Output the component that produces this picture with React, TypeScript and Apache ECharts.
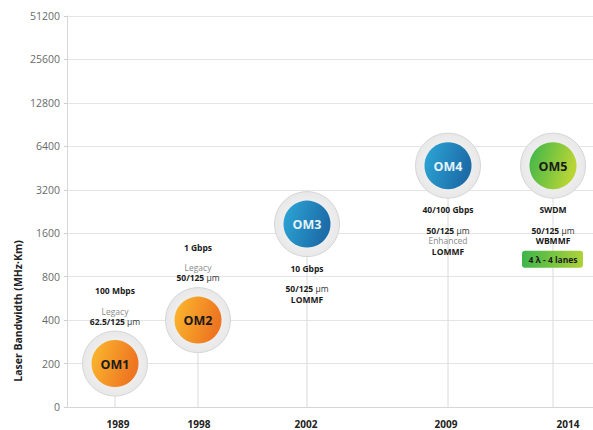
import React, { useEffect, useRef } from "react";
import * as echarts from "echarts";

// ---- data ----
const names = ["OM1", "OM2", "OM3", "OM4", "OM5"];
const years = ["1989", "1998", "2002", "2009", "2014"];
const bandwidth = [200, 400, 1850, 4700, 4700]; // MHz·km (as drawn)
const speeds = ["100 Mbps", "1 Gbps", "10 Gbps", "40/100 Gbps", "SWDM"];
const fiberTypes = ["Legacy", "Legacy", "", "Enhanced", ""];
const cores = ["62.5/125", "50/125", "50/125", "50/125", "50/125"];
const fiberClasses = ["", "", "LOMMF", "LOMMF", "WBMMF"];
const extras = ["", "", "", "", "4 λ - 4 lanes"];
const yLabels = ["0", "200", "400", "800", "1600", "3200", "6400", "12800", "25600", "51200"];

// ---- layout ----
const xPos = [48, 131, 240, 381, 486];
const yearLabelPos = [51, 132, 239, 379, 501];
const labelAbove = [true, true, false, false, false];
const palettes: Record<string, [string, string, string]> = {
  OM1: ["#FBBB2E", "#EE7521", "#1a1a1a"],
  OM2: ["#FBBB2E", "#EE7521", "#1a1a1a"],
  OM3: ["#2DA8D8", "#1C6CA8", "#E6F3FA"],
  OM4: ["#2DA8D8", "#1C6CA8", "#E6F3FA"],
  OM5: ["#3AB54A", "#B8D535", "#1a1a1a"],
};
const FONT = "'Open Sans', 'Noto Sans', sans-serif";

const toIdx = (v: number) => (v <= 0 ? 0 : 1 + Math.log2(v / 200));

const rich = {
  b: { fontFamily: FONT, fontSize: 8.5, fontWeight: "bold", fill: "#1a1a1a", color: "#1a1a1a" },
  n: { fontFamily: FONT, fontSize: 8.5, fontWeight: "normal", fill: "#333", color: "#333" },
  g: { fontFamily: FONT, fontSize: 8.5, fontWeight: "normal", fill: "#8a8a8a", color: "#8a8a8a" },
};

function textEl(x: number, y: number, text: string) {
  return {
    type: "text",
    z2: 20,
    style: {
      x,
      y,
      text,
      rich,
      align: "center",
      verticalAlign: "middle",
      fontFamily: FONT,
      fontSize: 8.5,
    },
  };
}

export default function App() {
  const ref = useRef<HTMLDivElement>(null);

  useEffect(() => {
    if (!ref.current) return;
    const chart = echarts.init(ref.current, null, { renderer: "svg" });

    const data = names.map((n, i) => [xPos[i], toIdx(bandwidth[i]), i]);

    const option = {
      animation: false,
      backgroundColor: "#ffffff",
      grid: { left: 67, right: 0, top: 16, bottom: 23 },
      xAxis: {
        type: "value",
        min: 0,
        max: 526,
        splitLine: { show: false },
        axisLine: { show: true, lineStyle: { color: "#D6D6D6", width: 1 } },
        axisTick: { show: false },
        axisLabel: {
          customValues: yearLabelPos,
          formatter: (v: number) => {
            const k = yearLabelPos.indexOf(v);
            return k >= 0 ? years[k] : "";
          },
          fontFamily: FONT,
          fontSize: 10,
          fontWeight: "bold",
          color: "#222",
          margin: 12,
        },
      },
      yAxis: {
        type: "value",
        min: 0,
        max: 9,
        interval: 1,
        axisLine: { show: true, lineStyle: { color: "#D6D6D6", width: 1 } },
        axisTick: { show: true, length: 3, lineStyle: { color: "#CFCFCF" } },
        splitLine: { show: true, lineStyle: { color: "#E4E4E4", width: 1 } },
        axisLabel: {
          formatter: (v: number) => yLabels[Math.round(v)] ?? "",
          fontFamily: FONT,
          fontSize: 10.5,
          color: "#6a6a6a",
          margin: 7,
        },
      },
      graphic: [
        {
          type: "text",
          x: 18,
          y: 311,
          rotation: Math.PI / 2,
          style: {
            text: "Laser Bandwidth (MHz·Km)",
            fontFamily: FONT,
            fontSize: 10.5,
            fontWeight: "bold",
            fill: "#222",
            align: "center",
            verticalAlign: "middle",
          },
        },
      ],
      series: [
        {
          type: "custom",
          data,
          clip: false,
          renderItem: (params: any, api: any) => {
            const i = api.value(2);
            const p = api.coord([api.value(0), api.value(1)]);
            const base = api.coord([api.value(0), 0]);
            const name = names[i];
            const [c1, c2, tc] = palettes[name];
            const cx = p[0];
            const cy = p[1];
            const children: any[] = [
              {
                type: "line",
                z2: 1,
                shape: { x1: cx, y1: cy, x2: base[0], y2: base[1] },
                style: { stroke: "#DADADA", lineWidth: 1 },
              },
              {
                type: "circle",
                z2: 5,
                shape: { cx, cy, r: 32.5 },
                style: {
                  fill: new echarts.graphic.RadialGradient(0.5, 0.5, 0.5, [
                    { offset: 0, color: "#E0E0E0" },
                    { offset: 0.75, color: "#EDEDED" },
                    { offset: 1, color: "#E8E8E8" },
                  ]),
                  stroke: "#D6D6D6",
                  lineWidth: 1,
                },
              },
              {
                type: "circle",
                z2: 6,
                shape: { cx, cy, r: 23.5 },
                style: {
                  fill: new echarts.graphic.LinearGradient(0, 0, 1, 0.3, [
                    { offset: 0, color: c1 },
                    { offset: 1, color: c2 },
                  ]),
                },
              },
              {
                type: "text",
                z2: 10,
                style: {
                  x: cx,
                  y: cy + 0.5,
                  text: name,
                  fontFamily: FONT,
                  fontSize: 12.5,
                  fontWeight: "bold",
                  fill: tc,
                  align: "center",
                  verticalAlign: "middle",
                },
              },
            ];

            const coreText = `{b|${cores[i]}} {n|µm}`;
            if (labelAbove[i]) {
              children.push(textEl(cx, cy - 73, `{b|${speeds[i]}}`));
              let y = cy - 52.5;
              if (fiberTypes[i]) {
                children.push(textEl(cx, y, `{g|${fiberTypes[i]}}`));
                y += 10;
              }
              children.push(textEl(cx, y, coreText));
            } else {
              children.push(textEl(cx, cy + 44, `{b|${speeds[i]}}`));
              let y = cy + 64.5;
              children.push(textEl(cx, y, coreText));
              y += 10.5;
              if (fiberTypes[i]) {
                children.push(textEl(cx, y, `{g|${fiberTypes[i]}}`));
                y += 10.5;
              }
              if (fiberClasses[i]) {
                children.push(textEl(cx, y, `{b|${fiberClasses[i]}}`));
                y += 10.5;
              }
              if (extras[i]) {
                const by = y + 8;
                children.push({
                  type: "rect",
                  z2: 15,
                  shape: { x: cx - 31, y: by - 8.5, width: 61, height: 17, r: 3 },
                  style: {
                    fill: new echarts.graphic.LinearGradient(0, 0, 1, 0, [
                      { offset: 0, color: "#3DB54A" },
                      { offset: 1, color: "#AED238" },
                    ]),
                  },
                });
                children.push(textEl(cx, by, `{b|${extras[i]}}`));
              }
            }
            return { type: "group", children };
          },
        },
      ],
    };

    chart.setOption(option as any);
    return () => chart.dispose();
  }, []);

  return (
    <div
      ref={ref}
      style={{ position: "absolute", left: 0, top: 0, width: 593, height: 430 }}
    />
  );
}
